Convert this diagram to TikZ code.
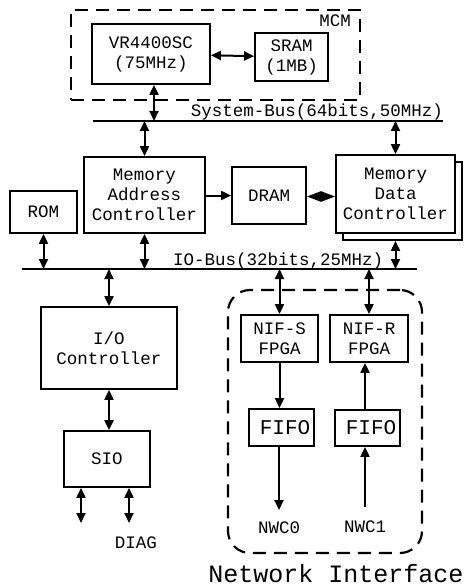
\documentclass[tikz,border=0pt]{standalone}
\usepackage{fontspec}
\setmonofont{Liberation Mono}
\usetikzlibrary{arrows.meta}
\begin{document}
\begin{tikzpicture}[x=1pt,y=-1pt,
  box/.style={draw,line width=1.8pt,fill=white,inner sep=0pt,align=center,font=\ttfamily\fontsize{17.5}{20}\selectfont},
  lbl/.style={inner sep=0pt,font=\ttfamily\fontsize{17.5}{20}\selectfont},
  bus/.style={line width=1.8pt},
  arr/.style={line width=2pt,-{Triangle[length=10pt,width=9pt]}},
  darr/.style={line width=2pt,{Triangle[length=10pt,width=9pt]}-{Triangle[length=10pt,width=9pt]}},
  dsh/.style={line width=2.2pt,dash pattern=on 13pt off 8pt}]
\useasboundingbox (0,0) rectangle (465,588);
% MCM
\node[dsh,draw,minimum width=289pt,minimum height=90pt,inner sep=0pt] (mcm) at (215.5,55) {};
\node[lbl,anchor=east] (mcml) at (351,21) {MCM};
\node[box,minimum width=118pt,minimum height=60pt] (vr) at (151,54) {VR4400SC\\(75MHz)};
\node[box,minimum width=73pt,minimum height=48pt] (sram) at (291.5,57) {SRAM\\(1MB)};
% system bus
\coordinate (sbL) at (93,121);
\coordinate (sbR) at (443,121);
\draw[bus] (sbL) -- (sbR);
\node[lbl,anchor=base east] (sbl) at (443,117) {System-Bus(64bits,50MHz)};
% middle row
\node[box,minimum width=121pt,minimum height=76pt] (mac) at (144.5,195) {Memory\\Address\\Controller};
\node[box,minimum width=119pt,minimum height=78pt] (mdcs) at (402.5,201) {};
\node[box,minimum width=119pt,minimum height=78pt] (mdc) at (395.5,194) {Memory\\Data\\Controller};
\node[box,minimum width=74pt,minimum height=57pt] (dram) at (269,195.5) {DRAM};
\node[box,minimum width=67pt,minimum height=42pt] (rom) at (43.5,212) {ROM};
% IO bus
\coordinate (ibL) at (22,269);
\coordinate (ibR) at (417,269);
\draw[bus] (ibL) -- (ibR);
\node[lbl,anchor=base west] (ibl) at (173,265) {IO-Bus(32bits,25MHz)};
% lower left
\node[box,minimum width=136pt,minimum height=82pt] (ioc) at (109,348) {I/O\\Controller};
\node[box,minimum width=86pt,minimum height=56pt] (sio) at (107,459) {SIO};
\coordinate (s1) at (81,523);
\coordinate (s2) at (129,523);
\node[lbl] (diag) at (136,543) {DIAG};
% network interface
\node[dsh,draw,rounded corners=22pt,minimum width=194pt,minimum height=263pt,inner sep=0pt] (ni) at (325,421.5) {};
\node[inner sep=0pt,anchor=base,font=\ttfamily\fontsize{25}{28}\selectfont] (nil) at (336,582) {Network Interface};
\node[box,minimum width=77pt,minimum height=47pt] (nis) at (279.5,338.5) {NIF-S\\FPGA};
\node[box,minimum width=78pt,minimum height=47pt] (nir) at (369,338.5) {NIF-R\\FPGA};
\node[box,minimum width=65pt,minimum height=37pt,font=\ttfamily\fontsize{21}{24}\selectfont] (f1) at (281.5,427.5) {\hspace{7pt}FIFO};
\node[box,minimum width=65pt,minimum height=36pt,font=\ttfamily\fontsize{21}{24}\selectfont] (f2) at (367.5,428) {\hspace{7pt}FIFO};
\coordinate (n0) at (279,510);
\coordinate (n1) at (365,507);
\node[lbl] (nwc0) at (279,528) {NWC0};
\node[lbl] (nwc1) at (365,527) {NWC1};
% connectors
\draw[darr] (vr) -- (sram);
\draw[darr] ([xshift=3pt]vr.south) -- ([xshift=3pt]vr.south |- sbL);
\draw[darr] (mac.north |- sbL) -- (mac.north);
\draw[darr] (mdc.north |- sbL) -- (mdc.north);
\draw[arr] (mac.east |- dram.west) -- (dram.west);
\draw[line width=2pt,{Triangle[length=14pt,width=10pt]}-{Triangle[length=14pt,width=10pt]}] ([yshift=-1pt]dram.east) -- ([yshift=-1pt]dram.east -| mdc.west);
\draw[darr] (rom.south) -- (rom.south |- ibL);
\draw[darr] (mac.south) -- (mac.south |- ibL);
\draw[darr] (mdc.south |- mdcs.south) -- (mdc.south |- ibL);
\draw[darr] (ioc.north |- ibL) -- (ioc.north);
\draw[darr] (ioc.south) -- (ioc.south |- sio.north);
\draw[darr] (sio.south -| s1) -- (s1);
\draw[darr] (sio.south -| s2) -- (s2);
\draw[darr] (nis.north |- ibL) -- (nis.north);
\draw[darr] (nir.north |- ibL) -- (nir.north);
\draw[arr] (nis.south) -- (nis.south |- f1.north);
\draw[arr] (f1.south -| n0) -- (n0);
\draw[arr] (f2.north -| n1) -- (n1 |- nir.south);
\draw[arr] (n1) -- (n1 |- f2.south);
\end{tikzpicture}
\end{document}
